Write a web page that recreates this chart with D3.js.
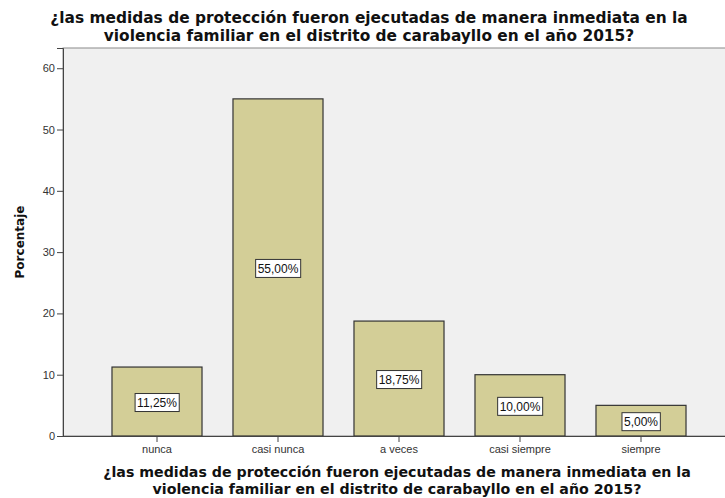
<!DOCTYPE html>
<html>
<head>
<meta charset="utf-8">
<script src="https://cdn.jsdelivr.net/npm/d3@7"></script>
<style>
  body { margin: 0; background: #fff; }
  svg text { font-family: Arial, "Liberation Sans", sans-serif; }
</style>
</head>
<body>
<div id="chart"></div>
<script>
const categories = ["nunca", "casi nunca", "a veces", "casi siempre", "siempre"];
const values = [11.25, 55.00, 18.75, 10.00, 5.00];
const yTicks = [0, 10, 20, 30, 40, 50, 60];
const titleLines = [
    "¿las medidas de protección fueron ejecutadas de manera inmediata en la",
    "violencia familiar en el distrito de carabayllo en el año 2015?"
];

const width = 725;
const height = 498;
const plot = { left: 63, right: 725, top: 48, bottom: 436 };

const svg = d3.select("#chart")
    .append("svg")
    .attr("width", width)
    .attr("height", height);

// plot background
svg.append("rect")
    .attr("x", plot.left)
    .attr("y", plot.top)
    .attr("width", plot.right - plot.left + 2)
    .attr("height", plot.bottom - plot.top)
    .style("fill", "#f0f0f0")
    .style("stroke", "#8a8a8a")
    .style("stroke-width", 1);

const y = d3.scaleLinear()
    .domain([0, 63.3])
    .range([plot.bottom, plot.top]);

const x = d3.scaleBand()
    .domain(categories)
    .range([96.5, 701.5])
    .paddingInner(0.256)
    .paddingOuter(0.128);

// y axis
const yAxis = svg.append("g")
    .attr("transform", `translate(${plot.left},0)`)
    .call(d3.axisLeft(y).tickValues(yTicks).tickSize(6).tickPadding(2));
yAxis.select(".domain").style("stroke", "#444");
yAxis.selectAll(".tick line").style("stroke", "#444");
yAxis.selectAll("text").style("font-size", "11px").style("fill", "#333");

// bars
const data = categories.map((c, i) => ({ cat: c, val: values[i] }));

svg.append("g")
    .selectAll("rect")
    .data(data)
    .enter().append("rect")
    .attr("x", d => x(d.cat))
    .attr("y", d => y(d.val))
    .attr("width", x.bandwidth())
    .attr("height", d => y(0) - y(d.val))
    .style("fill", "#d3ce97")
    .style("stroke", "#333")
    .style("stroke-width", 1.2);

// x axis
const xAxis = svg.append("g")
    .attr("transform", `translate(0,${plot.bottom})`)
    .call(d3.axisBottom(x).tickSize(6).tickPadding(3).tickSizeOuter(0));
xAxis.select(".domain")
    .attr("d", `M${plot.left},0.5H${plot.right}`)
    .style("stroke", "#444");
xAxis.selectAll(".tick line").style("stroke", "#444");
xAxis.selectAll("text").style("font-size", "11px").style("fill", "#333");

// value labels
const lbl = svg.append("g")
    .selectAll("g")
    .data(data)
    .enter().append("g")
    .attr("transform", d => `translate(${x(d.cat) + x.bandwidth() / 2},${(y(d.val) + y(0)) / 2 + 1})`);

lbl.append("text")
    .attr("text-anchor", "middle")
    .attr("dy", "0.35em")
    .style("font-size", "12px")
    .style("fill", "#111")
    .text(d => d.val.toFixed(2).replace(".", ",") + "%")
    .each(function () {
        const b = this.getBBox();
        d3.select(this.parentNode).insert("rect", "text")
            .attr("x", b.x - 2)
            .attr("y", -9)
            .attr("width", b.width + 4)
            .attr("height", 18)
            .style("fill", "#fff")
            .style("stroke", "#333")
            .style("stroke-width", 1);
    });

// title, one text per line
svg.append("g")
    .selectAll("text")
    .data(titleLines)
    .enter().append("text")
    .attr("x", 369)
    .attr("y", (d, i) => 23 + i * 18)
    .attr("text-anchor", "middle")
    .style("font-family", "'DejaVu Sans', Verdana, sans-serif")
    .style("font-size", "15.4px")
    .style("font-weight", "bold")
    .style("fill", "#111")
    .text(d => d);

// x axis title
svg.append("g")
    .selectAll("text")
    .data(titleLines)
    .enter().append("text")
    .attr("x", 397)
    .attr("y", (d, i) => 477 + i * 17)
    .attr("text-anchor", "middle")
    .style("font-family", "'DejaVu Sans', Verdana, sans-serif")
    .style("font-size", "14.2px")
    .style("font-weight", "bold")
    .style("fill", "#111")
    .text(d => d);

// y axis title
svg.append("text")
    .attr("transform", "translate(24,242) rotate(-90)")
    .attr("text-anchor", "middle")
    .style("font-family", "'DejaVu Sans', Verdana, sans-serif")
    .style("font-size", "12px")
    .style("font-weight", "bold")
    .style("fill", "#111")
    .text("Porcentaje");
</script>
</body>
</html>
